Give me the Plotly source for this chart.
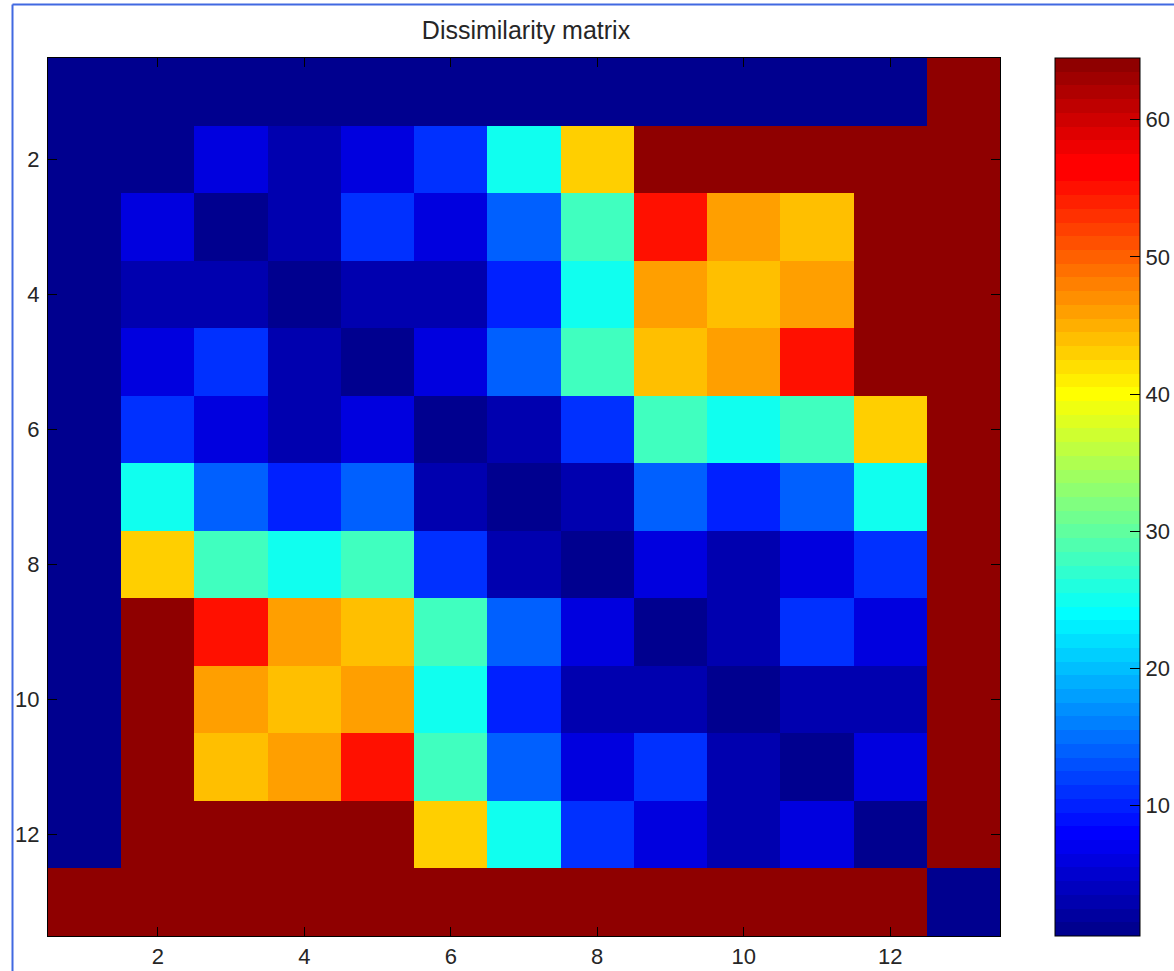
import plotly.graph_objects as go

# ---- data: colour indices (1..64, direct-mapped into a jet(64) colormap) ----
D, N, B, E, F, G, C, A, Y, Y2, O, R, M = 1, 3, 6, 10, 11, 14, 25, 28, 43, 44, 46, 55, 64

row_labels = list(range(1, 14))
col_labels = list(range(1, 14))

row01 = [D, D, D, D, D, D, D, D, D, D, D, D, M]
row02 = [D, D, B, N, B, F, C, Y, M, M, M, M, M]
row03 = [D, B, D, N, F, B, G, A, R, O, Y2, M, M]
row04 = [D, N, N, D, N, N, E, C, O, Y2, O, M, M]
row05 = [D, B, F, N, D, B, G, A, Y2, O, R, M, M]
row06 = [D, F, B, N, B, D, N, F, A, C, A, Y, M]
row07 = [D, C, G, E, G, N, D, N, G, E, G, C, M]
row08 = [D, Y, A, C, A, F, N, D, B, N, B, F, M]
row09 = [D, M, R, O, Y2, A, G, B, D, N, F, B, M]
row10 = [D, M, O, Y2, O, C, E, N, N, D, N, N, M]
row11 = [D, M, Y2, O, R, A, G, B, F, N, D, B, M]
row12 = [D, M, M, M, M, Y, C, F, B, N, B, D, M]
row13 = [M, M, M, M, M, M, M, M, M, M, M, M, D]

matrix = [row01, row02, row03, row04, row05, row06, row07,
          row08, row09, row10, row11, row12, row13]

axis_ticks = [2, 4, 6, 8, 10, 12]
cbar_ticks = [10, 20, 30, 40, 50, 60]
title_text = "Dissimilarity matrix"


# ---- jet(64)-style colormap ----
def jet64():
    cols = []
    for k in range(1, 65):
        if k <= 8:
            b = (8 + k) / 16
        elif k <= 23:
            b = 1.0
        elif k <= 39:
            b = (40 - k) / 16
        else:
            b = 0.0
        if k <= 8:
            g = 0.0
        elif k <= 24:
            g = (k - 8) / 16
        elif k <= 39:
            g = 1.0
        elif k <= 55:
            g = (56 - k) / 16
        else:
            g = 0.0
        if k <= 24:
            r = 0.0
        elif k <= 40:
            r = (k - 24) / 16
        else:
            r = min(1.0, (73 - k) / 16)
        cols.append("rgb(%d,%d,%d)" % (round(r * 255), round(g * 255), round(b * 255)))
    return cols


jet = jet64()
colorscale = []
for i, c in enumerate(jet):
    colorscale.append([i / 64, c])
    colorscale.append([(i + 1) / 64, c])

W, H = 1174, 971
L, Rm, T, Bm = 48, 174, 58, 35
pw = W - L - Rm
ph = H - T - Bm

FONT = "Liberation Sans, Arial, sans-serif"
TXT = "#262626"

fig = go.Figure(go.Heatmap(
    z=matrix, x=col_labels, y=row_labels,
    colorscale=colorscale, zmin=0.5, zmax=64.5,
    xgap=0, ygap=0,
    colorbar=dict(
        x=(1055 - L) / pw, xanchor="left", y=0.5, yanchor="middle",
        len=1, lenmode="fraction", thickness=85, thicknessmode="pixels",
        xpad=0, ypad=0, outlinecolor="black", outlinewidth=1,
        tickvals=cbar_ticks, ticks="inside", ticklen=10, tickcolor="black",
        tickfont=dict(family=FONT, size=22, color=TXT),
    ),
))

axis_common = dict(
    tickvals=axis_ticks, ticks="inside", ticklen=9, tickcolor="black",
    showline=True, linecolor="black", linewidth=1, mirror="ticks",
    showgrid=False, zeroline=False, automargin=False,
    tickfont=dict(family=FONT, size=22, color=TXT),
)


# frame line (decoration)
def px_x(p):
    return (p - L) / pw


def px_y(p):
    return (H - Bm - p) / ph


fig.add_shape(type="line", xref="paper", yref="paper",
              x0=px_x(12.5), y0=px_y(975), x1=px_x(12.5), y1=px_y(4.5),
              line=dict(color="#4169e1", width=2))
fig.add_shape(type="line", xref="paper", yref="paper",
              x0=px_x(12.5), y0=px_y(4.5), x1=px_x(1180), y1=px_y(4.5),
              line=dict(color="#4169e1", width=2))

fig.update_layout(
    width=W, height=H,
    margin=dict(l=L, r=Rm, t=T, b=Bm, pad=0, autoexpand=False),
    paper_bgcolor="white", plot_bgcolor="white",
    title=dict(text=title_text, x=526 / W, xanchor="center",
               y=1 - 30 / H, yanchor="middle",
               font=dict(family=FONT, size=25, color=TXT)),
    xaxis=dict(range=[0.5, 13.5], ticklabelstandoff=1, **axis_common),
    yaxis=dict(range=[13.5, 0.5], ticklabelstandoff=3, **axis_common),
)

fig.write_html("out.html")
